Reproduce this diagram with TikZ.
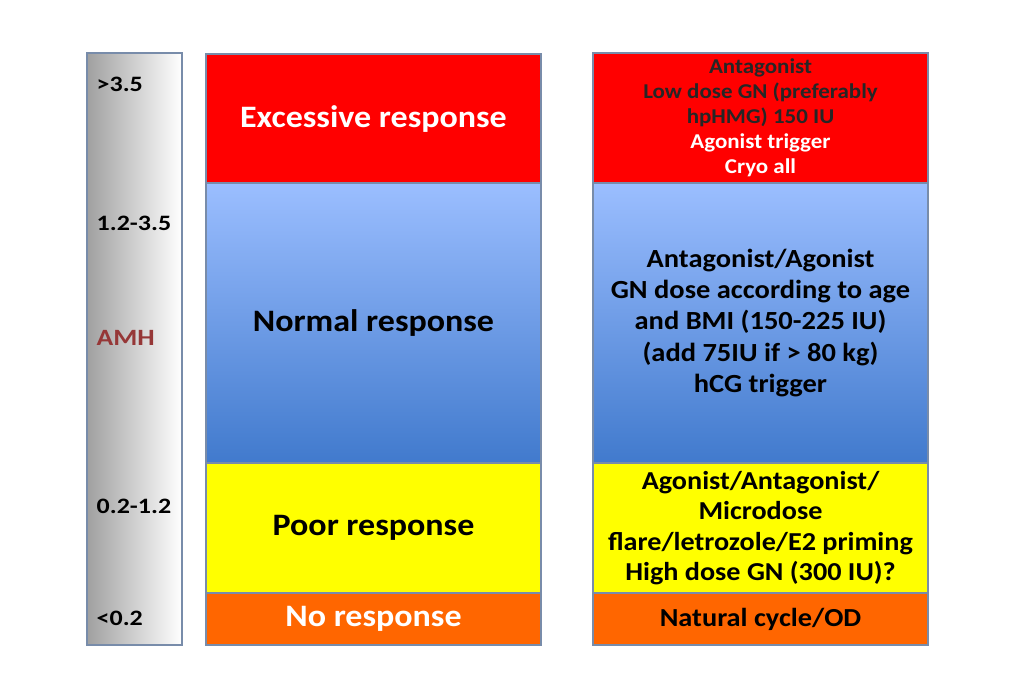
\documentclass[tikz,border=0pt]{standalone}
\usepackage{fontspec}
\setmainfont{Carlito}[FakeStretch=1.09]
\newfontfamily\lblfont{Carlito}[FakeStretch=1.18]
\begin{document}
\begin{tikzpicture}[x=0.75pt,y=-0.75pt,
  box/.style={draw=boxline,line width=0.8pt,inner sep=0pt,align=center,font=\bfseries},
  midtxt/.style={font=\fontsize{23.4}{26}\selectfont\bfseries},
  righttxt/.style={font=\fontsize{15.8}{18.75}\selectfont\bfseries},
  scaletxt/.style={anchor=west,font=\lblfont\fontsize{16.5}{18}\selectfont\bfseries}]
\definecolor{boxline}{RGB}{120,140,170}
\definecolor{exred}{RGB}{255,0,0}
\definecolor{bluetop}{RGB}{155,190,255}
\definecolor{bluebot}{RGB}{65,122,205}
\definecolor{pooryel}{RGB}{255,255,0}
\definecolor{noor}{RGB}{255,102,0}
\definecolor{amhred}{RGB}{150,55,55}
\definecolor{bargray}{RGB}{160,160,160}
\useasboundingbox (0,0) rectangle (1023,698);
\fill[white] (0,0) rectangle (1023,698);
% left scale bar
\shade[left color=bargray,right color=white] (87,53) rectangle (182,645);
\node[box,fill=none,minimum width=95*0.75pt,minimum height=592*0.75pt] (bar) at (134.5,349) {};
\node[scaletxt] (l1) at (92,84) {>3.5};
\node[scaletxt] (l2) at (92,223) {1.2-3.5};
\node[scaletxt,text=amhred,font=\lblfont\fontsize{17.5}{18}\selectfont\bfseries] (amh) at (92,338) {AMH};
\node[scaletxt] (l3) at (92,506) {0.2-1.2};
\node[scaletxt] (l4) at (92,618) {<0.2};
% middle column
\node[box,fill=exred,minimum width=335*0.75pt,minimum height=130*0.75pt,text=white,midtxt] (ex) at (373.5,119) {Excessive response};
\shade[top color=bluetop,bottom color=bluebot] (206,183) rectangle (541,463);
\node[box,minimum width=335*0.75pt,minimum height=280*0.75pt,midtxt] (nor) at (373.5,323) {Normal response};
\node[box,fill=pooryel,minimum width=335*0.75pt,minimum height=130*0.75pt,midtxt] (poor) at (373.5,528) {Poor response};
\node[box,fill=noor,minimum width=335*0.75pt,minimum height=52*0.75pt,text=white,midtxt] (no) at (373.5,619) {No response};
% right column
\node[box,fill=exred,minimum width=335*0.75pt,minimum height=130*0.75pt,righttxt] (rex) at (760.5,118) {\textcolor{black!85}{Antagonist}\\\textcolor{black!85}{Low dose GN (preferably}\\\textcolor{black!85}{hpHMG) 150 IU}\\\textcolor{white}{Agonist trigger}\\\textcolor{white}{Cryo all}};
\shade[top color=bluetop,bottom color=bluebot] (593,183) rectangle (928,463);
\node[box,minimum width=335*0.75pt,minimum height=280*0.75pt,font=\fontsize{19.6}{23.3}\selectfont\bfseries] (rnor) at (760.5,323) {Antagonist/Agonist\\GN dose according to age\\and BMI (150-225 IU)\\(add 75IU if > 80 kg)\\hCG trigger};
\node[box,fill=pooryel,minimum width=335*0.75pt,minimum height=130*0.75pt,font=\fontsize{19.4}{22.7}\selectfont\bfseries] (rpoor) at (760.5,528) {Agonist/Antagonist/\\Microdose\\flare/letrozole/E2 priming\\High dose GN (300 IU)?};
\node[box,fill=noor,minimum width=335*0.75pt,minimum height=52*0.75pt,font=\fontsize{19.5}{21}\selectfont\bfseries] (rno) at (760.5,619) {Natural cycle/OD};
\end{tikzpicture}
\end{document}
